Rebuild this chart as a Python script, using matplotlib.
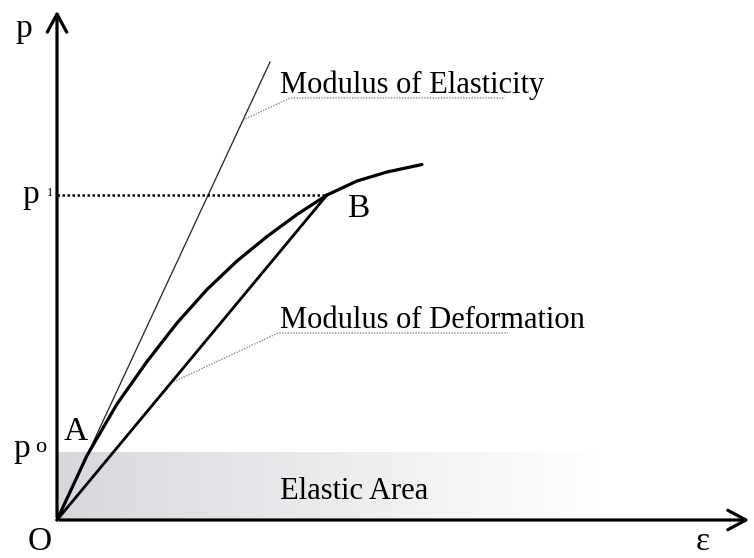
import numpy as np
import matplotlib
matplotlib.use('Agg')
import matplotlib.pyplot as plt
from matplotlib.colors import LinearSegmentedColormap
from matplotlib.patches import FancyArrowPatch

# stress-strain curve
eps_curve = [0, 3, 6, 9, 12, 15, 18, 21, 24, 27, 30, 33, 36.5]
p_curve = [0, 6.45, 11.6, 15.85, 19.7, 23.05, 25.9, 28.35, 30.55, 32.5, 33.9, 34.8, 35.55]

# tangent (modulus of elasticity) and secant (modulus of deformation)
eps_tangent = [0, 21.3]
p_tangent = [0, 45.8]
eps_B, p_B = 27.0, 32.5
p0 = 6.7
p1 = 32.5

# leader lines for the two labels
lead_elast_x = [18.6, 23.3, 44.8]
lead_elast_y = [40.0, 42.2, 42.2]
lead_def_x = [11.4, 22.1, 45.1]
lead_def_y = [13.7, 18.7, 18.7]

serif = 'Liberation Serif'

fig = plt.figure(figsize=(7.54, 5.58), dpi=100)
ax = fig.add_axes([0, 0, 1, 1])
ax.set_xlim(-5.7, 69.7)
ax.set_ylim(-3.8, 52.0)
ax.axis('off')

# elastic area, grey fading to white
cmap = LinearSegmentedColormap.from_list('fade', ['#d8d7dd', '#ffffff'])
grad = np.linspace(0, 1, 256).reshape(1, -1)
ax.imshow(grad, cmap=cmap, extent=[0, 54.3, 0, p0], aspect='auto', zorder=0)

# axes with open arrow heads
for end in [(0, 51.2), (69.5, 0)]:
    arr = FancyArrowPatch((0, 0), end, arrowstyle='->,head_length=0.65,head_width=0.35',
                          mutation_scale=20, lw=2.3, color='black', zorder=5)
    ax.add_patch(arr)

ax.plot(eps_curve, p_curve, color='black', lw=2.3, solid_capstyle='round',
        solid_joinstyle='round', zorder=4)
ax.plot(eps_tangent, p_tangent, color='#222222', lw=0.9, zorder=3)
ax.plot([0, eps_B], [0, p_B], color='black', lw=2.0, zorder=3)
ax.plot([0, eps_B], [p1, p1], color='black', lw=1.8, linestyle=(0, (1, 1)), zorder=3)

ax.plot(lead_elast_x, lead_elast_y, color='#888888', lw=1.0, linestyle=(0, (1, 1)), zorder=2)
ax.plot(lead_def_x, lead_def_y, color='#888888', lw=1.0, linestyle=(0, (1, 1)), zorder=2)

fs = 22
ax.text(22.3, 42.7, 'Modulus of Elasticity', fontsize=fs, family=serif, va='baseline', ha='left')
ax.text(22.3, 19.2, 'Modulus of Deformation', fontsize=fs, family=serif, va='baseline', ha='left')
ax.text(22.3, 2.1, 'Elastic Area', fontsize=fs, family=serif, va='baseline', ha='left')

big = 24
ax.text(-4.2, 48.3, 'p', fontsize=big, family=serif, ha='left', va='baseline')
ax.text(-3.5, 31.7, 'p', fontsize=big, family=serif, ha='left', va='baseline')
ax.text(-0.65, 32.65, '1', fontsize=9, family=serif, ha='center', va='center')
ax.text(-4.4, 6.3, 'p', fontsize=big, family=serif, ha='left', va='baseline')
ax.text(-1.65, 7.3, 'o', fontsize=16, family=serif, ha='center', va='center')
ax.text(-1.75, -3.0, 'O', fontsize=big, family=serif, ha='center', va='baseline')
ax.text(64.55, -3.0, 'ε', fontsize=big, family=serif, ha='center', va='baseline')
ax.text(1.85, 8.0, 'A', fontsize=big, family=serif, ha='center', va='baseline')
ax.text(30.1, 30.3, 'B', fontsize=big, family=serif, ha='center', va='baseline')

fig.savefig('out.png', dpi=100)
